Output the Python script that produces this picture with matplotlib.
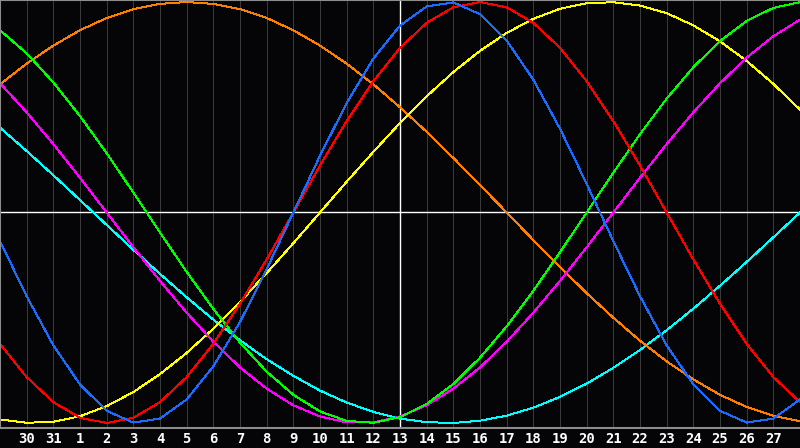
import matplotlib
matplotlib.use("Agg")
import matplotlib.pyplot as plt

# day index 0..30 across the chart, "today" is index 15 (the 13th)
dias = list(range(31))
etiquetas = ["30", "31"] + [str(d) for d in range(1, 28)]  # ticks at index 1..29
hoy = 15

# cycle values, one per day
fisico = [-0.136, -0.398, -0.631, -0.817, -0.942, -0.998, -0.979, -0.888, -0.731, -0.520,
          -0.270, 0.000, 0.270, 0.520, 0.731, 0.888, 0.979, 0.998, 0.942, 0.817,
          0.631, 0.398, 0.136, -0.136, -0.398, -0.631, -0.817, -0.942, -0.998, -0.979, -0.888]
emocional = [-0.624, -0.782, -0.901, -0.975, -1.000, -0.975, -0.901, -0.782, -0.624, -0.434,
             -0.223, 0.000, 0.223, 0.434, 0.624, 0.782, 0.901, 0.975, 1.000, 0.975,
             0.901, 0.782, 0.624, 0.434, 0.223, 0.000, -0.223, -0.434, -0.624, -0.782, -0.901]
intelectual = [0.866, 0.756, 0.618, 0.458, 0.282, 0.095, -0.095, -0.282, -0.458, -0.618,
               -0.756, -0.866, -0.945, -0.990, -0.999, -0.972, -0.910, -0.815, -0.690, -0.541,
               -0.372, -0.189, 0.000, 0.189, 0.372, 0.541, 0.690, 0.815, 0.910, 0.972, 0.999]
intuitivo = [0.614, 0.476, 0.325, 0.165, 0.000, -0.165, -0.325, -0.476, -0.614, -0.736,
             -0.837, -0.916, -0.969, -0.997, -0.997, -0.969, -0.916, -0.837, -0.736, -0.614,
             -0.476, -0.325, -0.165, 0.000, 0.165, 0.325, 0.476, 0.614, 0.736, 0.837, 0.916]
estetico = [-0.983, -0.999, -0.994, -0.968, -0.920, -0.853, -0.768, -0.667, -0.552, -0.425,
            -0.288, -0.146, 0.000, 0.146, 0.288, 0.425, 0.552, 0.667, 0.768, 0.853,
            0.920, 0.968, 0.994, 0.999, 0.983, 0.947, 0.889, 0.813, 0.720, 0.611, 0.489]
conciencia = [0.609, 0.707, 0.793, 0.866, 0.924, 0.966, 0.991, 1.000, 0.991, 0.966,
              0.924, 0.866, 0.793, 0.707, 0.609, 0.500, 0.383, 0.259, 0.131, 0.000,
              -0.131, -0.259, -0.383, -0.500, -0.609, -0.707, -0.793, -0.866, -0.924, -0.966, -0.991]
espiritual = [0.403, 0.292, 0.177, 0.059, -0.059, -0.177, -0.292, -0.403, -0.509, -0.607,
              -0.697, -0.776, -0.846, -0.903, -0.947, -0.979, -0.996, -1.000, -0.989, -0.965,
              -0.927, -0.876, -0.813, -0.738, -0.653, -0.559, -0.457, -0.348, -0.235, -0.118, 0.000]

series = [
    (espiritual, "#00ffff"),
    (conciencia, "#ff8000"),
    (estetico, "#ffff00"),
    (intuitivo, "#ff00ff"),
    (intelectual, "#00ff00"),
    (emocional, "#ff0000"),
    (fisico, "#1a6cff"),
]

fondo = "#050508"
fig = plt.figure(figsize=(8, 4.48), dpi=100, facecolor=fondo)
ax = fig.add_axes([0, 20 / 448, 1, 428 / 448])
ax.set_facecolor(fondo)

ax.set_xlim(0, 30)
ax.set_ylim(-1 - 5 / 210.5, 1 + 2 / 210.5)

ax.set_xticks(dias[1:30])
ax.set_xticklabels(etiquetas)
ax.set_yticks([])
ax.tick_params(axis="x", length=0, pad=3, colors="white")
for t in ax.get_xticklabels():
    t.set_fontfamily("DejaVu Sans Mono")
    t.set_fontweight("bold")
    t.set_fontsize(10)
ax.grid(axis="x", color="#3a3a3a", linewidth=0.72)

ax.axvline(hoy, color="white", linewidth=1.0)
ax.axhline(0, color="white", linewidth=1.0)

for valores, color in series:
    ax.plot(dias, valores, color=color, linewidth=0.7, antialiased=False)

for lado in ["top", "bottom", "left"]:
    ax.spines[lado].set_color("#8c8c8c")
    ax.spines[lado].set_linewidth(1.5)
ax.spines["right"].set_visible(False)

fig.savefig("out.png", dpi=100, facecolor=fondo)
